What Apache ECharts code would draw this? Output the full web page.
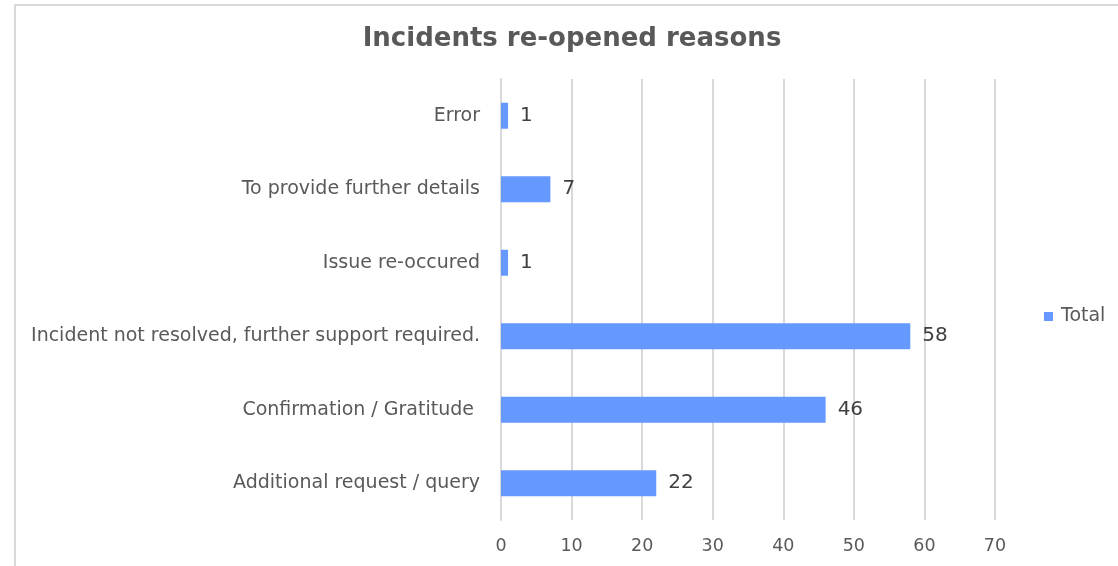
<!DOCTYPE html>
<html>
<head>
<meta charset="utf-8">
<script src="https://cdn.jsdelivr.net/npm/echarts@6/dist/echarts.min.js"></script>
<style>html,body{margin:0;padding:0;background:#fff;}#c{width:1118px;height:566px;}</style>
</head>
<body>
<div id="c"></div>
<script>
var categories = ["Additional request / query", "Confirmation / Gratitude ", "Incident not resolved, further support required.", "Issue re-occured", "To provide further details", "Error"];
var totals = [22, 46, 58, 1, 7, 1];
var xTicks = [0, 10, 20, 30, 40, 50, 60, 70];
var seriesName = "Total";
var titleText = "Incidents re-opened reasons";

var chart = echarts.init(document.getElementById('c'), null, {renderer: 'canvas'});
var font = '"DejaVu Sans", sans-serif';
chart.setOption({
  animation: false,
  backgroundColor: '#ffffff',
  textStyle: {fontFamily: font},
  title: {
    text: titleText, left: 567, top: 21, textAlign: 'center',
    textStyle: {fontFamily: font, fontSize: 26, fontWeight: 'bold', color: '#595959'}
  },
  legend: {
    data: [seriesName], left: 1039, top: 302, orient: 'vertical',
    icon: 'rect', itemWidth: 9, itemHeight: 9, itemGap: 5,
    textStyle: {fontFamily: font, fontSize: 19, color: '#595959', padding: [0, 0, 0, 3]}
  },
  graphic: [{
    type: 'rect', shape: {x: 15, y: 5, width: 1120, height: 600},
    style: {fill: 'none', stroke: '#d9d9d9', lineWidth: 2}, silent: true
  }],
  grid: {left: 501, right: 123, top: 79, bottom: 46, containLabel: false},
  xAxis: {
    type: 'value', min: xTicks[0], max: xTicks[xTicks.length - 1], interval: 10,
    axisLine: {show: false}, axisTick: {show: false},
    splitLine: {show: true, lineStyle: {color: '#d9d9d9', width: 2}},
    axisLabel: {fontFamily: font, fontSize: 17.5, color: '#595959', margin: 17}
  },
  yAxis: {
    type: 'category', data: categories,
    axisLine: {show: true, lineStyle: {color: '#d9d9d9', width: 2}},
    axisTick: {show: false},
    axisLabel: {fontFamily: font, fontSize: 19, color: '#595959', margin: 21}
  },
  series: [{
    name: seriesName, type: 'bar', data: totals, barWidth: 26,
    itemStyle: {color: '#6699ff'},
    label: {show: true, position: 'right', distance: 12, fontFamily: font, fontSize: 20, color: '#404040'}
  }]
});
</script>
</body>
</html>
